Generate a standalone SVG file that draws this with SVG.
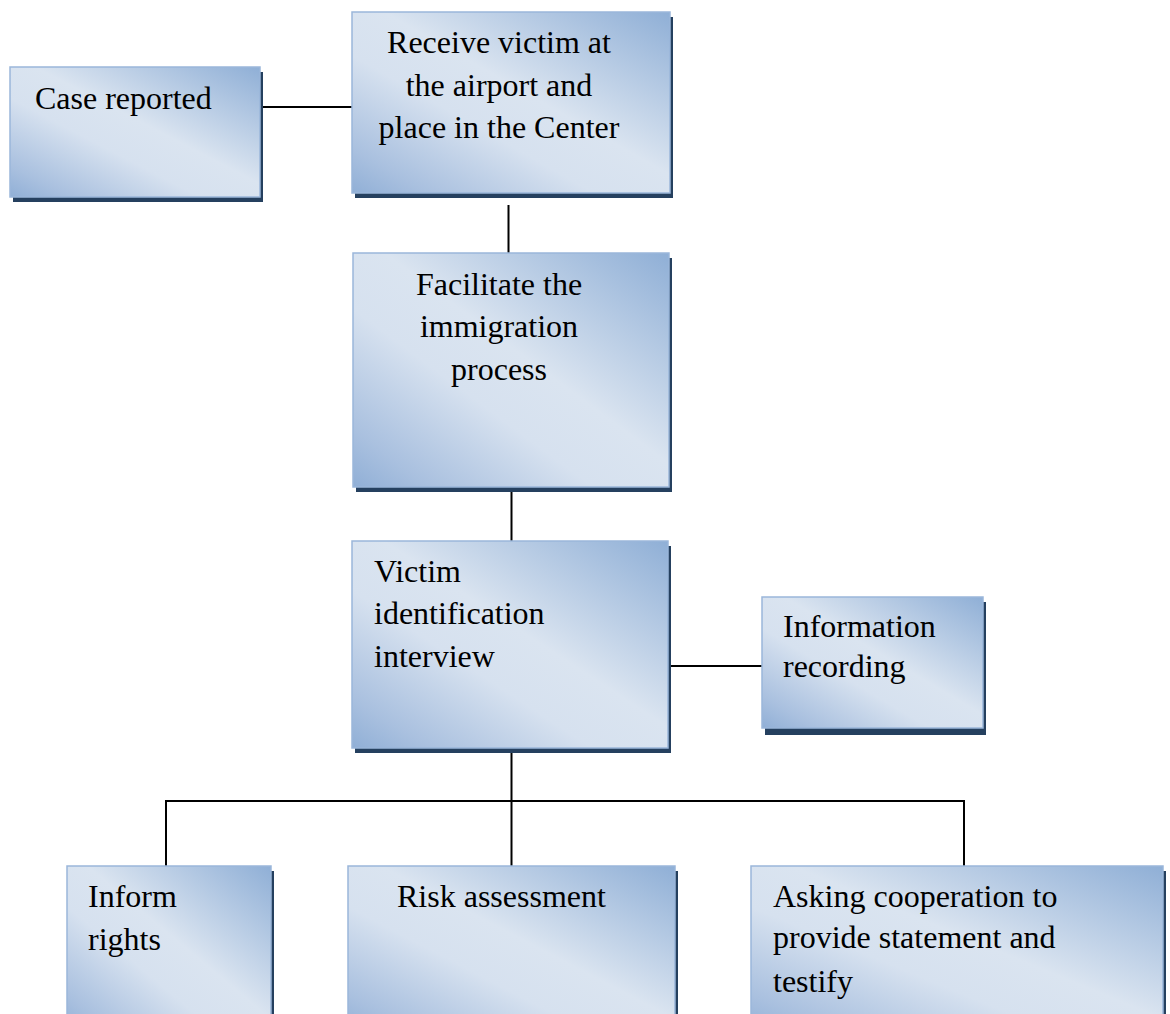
<svg xmlns="http://www.w3.org/2000/svg" width="1170" height="1014" viewBox="0 0 1170 1014">
  <defs>
    <linearGradient id="fill" x1="1" y1="0" x2="0" y2="1">
      <stop offset="0" stop-color="#8FAFD6"/>
      <stop offset="0.12" stop-color="#A3BDDD"/>
      <stop offset="0.45" stop-color="#DAE4F0"/>
      <stop offset="0.62" stop-color="#D6E1EF"/>
      <stop offset="0.88" stop-color="#A9C0DF"/>
      <stop offset="1" stop-color="#90AFD6"/>
    </linearGradient>
  </defs>
  <style>
    .box { fill: url(#fill); stroke: #9AB6DA; stroke-width: 1.5; }
    .shadow { fill: #25405F; }
    .lbl { font-family: "Liberation Serif", "Times New Roman", serif; font-size: 32px; fill: #000; }
    .mid { text-anchor: middle; }
    .conn { stroke: #000; stroke-width: 2; fill: none; }
  </style>
  <rect width="1170" height="1014" fill="#FFFFFF"/>

  <g id="connectors">
    <line class="conn" x1="259" y1="107" x2="352" y2="107"/>
    <line class="conn" x1="508.5" y1="205" x2="508.5" y2="253"/>
    <line class="conn" x1="511.5" y1="492" x2="511.5" y2="541"/>
    <line class="conn" x1="668" y1="666" x2="762" y2="666"/>
    <line class="conn" x1="511.5" y1="753" x2="511.5" y2="866"/>
    <polyline class="conn" points="166,866 166,801 964,801 964,866"/>
  </g>

  <g id="case-reported">
    <rect class="shadow" x="13" y="72" width="250" height="130"/>
    <rect class="box" x="10" y="67" width="250" height="130"/>
    <text class="lbl" x="35" y="109">Case reported</text>
  </g>

  <g id="receive-victim">
    <rect class="shadow" x="355" y="17" width="318" height="181"/>
    <rect class="box" x="352" y="12" width="318" height="181"/>
    <text class="lbl mid" x="499" y="53">Receive victim at</text>
    <text class="lbl mid" x="499" y="96">the airport and</text>
    <text class="lbl mid" x="499" y="138">place in the Center</text>
  </g>

  <g id="facilitate">
    <rect class="shadow" x="356" y="258" width="316" height="234"/>
    <rect class="box" x="353" y="253" width="316" height="234"/>
    <text class="lbl mid" x="499" y="295">Facilitate the</text>
    <text class="lbl mid" x="499" y="337">immigration</text>
    <text class="lbl mid" x="499" y="380">process</text>
  </g>

  <g id="victim-identification">
    <rect class="shadow" x="355" y="546" width="316" height="207"/>
    <rect class="box" x="352" y="541" width="316" height="207"/>
    <text class="lbl" x="374" y="582">Victim</text>
    <text class="lbl" x="374" y="624">identification</text>
    <text class="lbl" x="374" y="667">interview</text>
  </g>

  <g id="information-recording">
    <rect class="shadow" x="765" y="602" width="221" height="133"/>
    <rect class="box" x="762" y="597" width="221" height="131"/>
    <text class="lbl" x="783" y="637">Information</text>
    <text class="lbl" x="783" y="677">recording</text>
  </g>

  <g id="inform-rights">
    <rect class="shadow" x="70" y="871" width="204" height="170"/>
    <rect class="box" x="67" y="866" width="204" height="170"/>
    <text class="lbl" x="88" y="907">Inform</text>
    <text class="lbl" x="88" y="950">rights</text>
  </g>

  <g id="risk-assessment">
    <rect class="shadow" x="351" y="871" width="327" height="170"/>
    <rect class="box" x="348" y="866" width="327" height="170"/>
    <text class="lbl" x="397" y="907">Risk assessment</text>
  </g>

  <g id="asking-cooperation">
    <rect class="shadow" x="754" y="871" width="412" height="170"/>
    <rect class="box" x="751" y="866" width="412" height="170"/>
    <text class="lbl" x="773" y="907">Asking cooperation to</text>
    <text class="lbl" x="773" y="948">provide statement and</text>
    <text class="lbl" x="773" y="992">testify</text>
  </g>
</svg>
